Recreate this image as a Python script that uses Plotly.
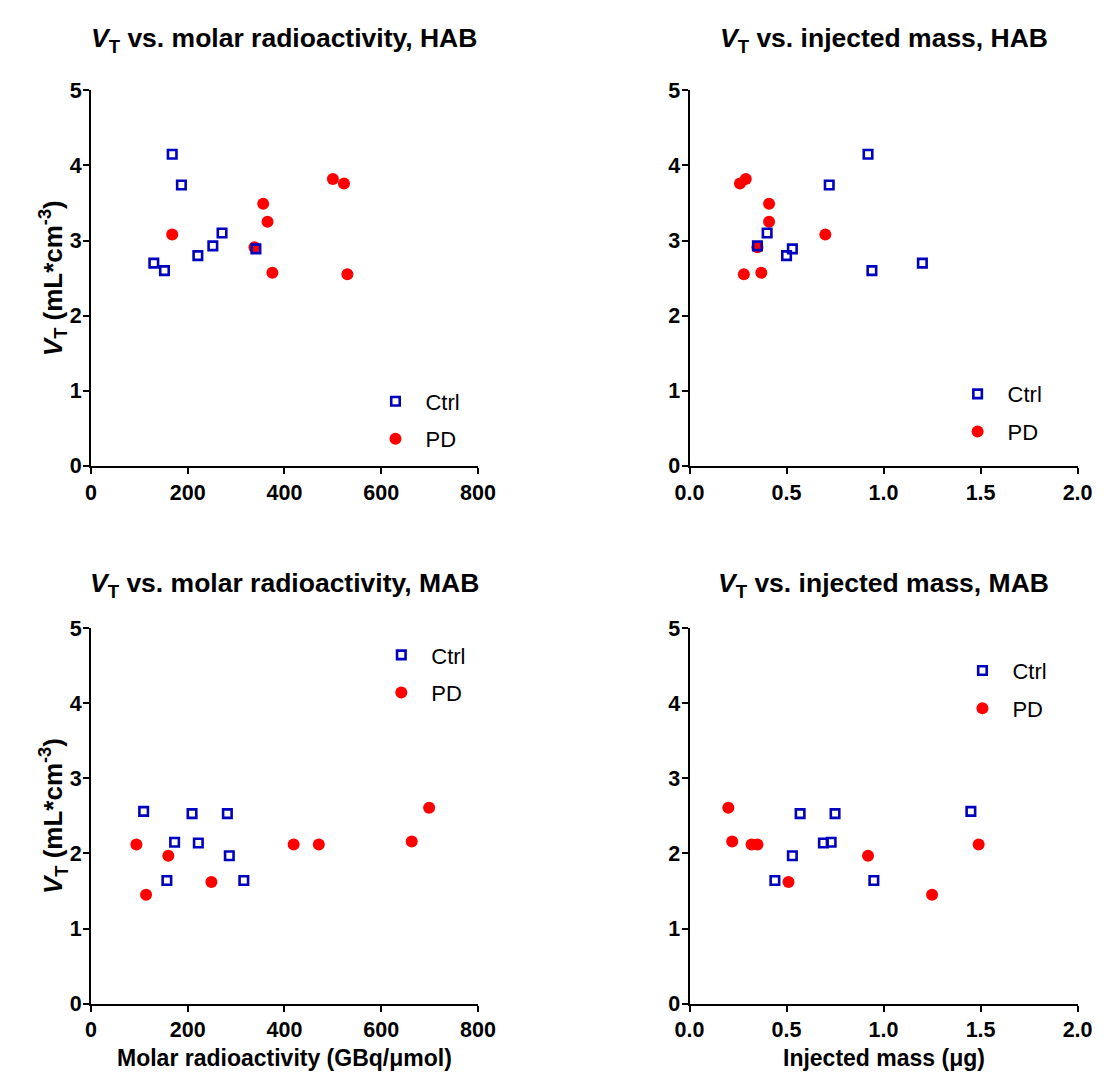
import plotly.graph_objects as go

# ---------------- data ----------------
hab_ctrl_vt = [4.15, 3.74, 3.10, 2.93, 2.80, 2.70, 2.60, 2.89]
hab_ctrl_molar = [168, 187, 271, 252, 221, 130, 152, 341]
hab_ctrl_mass = [0.92, 0.72, 0.40, 0.35, 0.50, 1.20, 0.94, 0.53]

hab_pd_vt = [3.08, 3.49, 3.25, 2.91, 2.57, 3.82, 3.76, 2.55]
hab_pd_molar = [168, 356, 365, 338, 375, 500, 523, 530]
hab_pd_mass = [0.70, 0.41, 0.41, 0.35, 0.37, 0.29, 0.26, 0.28]

mab_ctrl_vt = [2.56, 2.53, 2.53, 2.15, 2.14, 1.97, 1.64, 1.64]
mab_ctrl_molar = [109, 209, 282, 173, 222, 286, 157, 316]
mab_ctrl_mass = [1.45, 0.57, 0.75, 0.73, 0.69, 0.53, 0.44, 0.95]

mab_pd_vt = [2.12, 1.97, 1.45, 1.62, 2.12, 2.12, 2.16, 2.61]
mab_pd_molar = [94, 160, 114, 249, 419, 471, 663, 699]
mab_pd_mass = [0.32, 0.92, 1.25, 0.51, 0.35, 1.49, 0.22, 0.20]

titles = [
    "<b><i>V</i><sub>T</sub> vs. molar radioactivity, HAB</b>",
    "<b><i>V</i><sub>T</sub> vs. injected mass, HAB</b>",
    "<b><i>V</i><sub>T</sub> vs. molar radioactivity, MAB</b>",
    "<b><i>V</i><sub>T</sub> vs. injected mass, MAB</b>",
]
ytitle = "<b><i>V</i><sub>T</sub> (mL*cm<sup>-3</sup>)</b>"
xtitle_molar = "<b>Molar radioactivity (GBq/μmol)</b>"
xtitle_mass = "<b>Injected mass (μg)</b>"
molar_ticks = [0, 200, 400, 600, 800]
mass_ticks = [0.0, 0.5, 1.0, 1.5, 2.0]
vt_ticks = [0, 1, 2, 3, 4, 5]

# ---------------- figure ----------------
W, H = 1107, 1081
FONT = "Liberation Sans, Arial, Helvetica, sans-serif"
CTRL_COLOR = "#0000BF"
PD_COLOR = "#FF0000"

def px_x(p):
    return p / W

def px_y(p):
    return 1 - p / H

fig = go.Figure()

panels = [
    ("", hab_ctrl_molar, hab_ctrl_vt, hab_pd_molar, hab_pd_vt, "legend"),
    ("2", hab_ctrl_mass, hab_ctrl_vt, hab_pd_mass, hab_pd_vt, "legend2"),
    ("3", mab_ctrl_molar, mab_ctrl_vt, mab_pd_molar, mab_pd_vt, "legend3"),
    ("4", mab_ctrl_mass, mab_ctrl_vt, mab_pd_mass, mab_pd_vt, "legend4"),
]

for i, (ax, xc, yc, xp, yp, lg) in enumerate(panels):
    fig.add_trace(go.Scatter(
        x=xp, y=yp, mode="markers", name="PD",
        xaxis="x" + ax, yaxis="y" + ax, legend=lg, legendrank=2,
        legendgroup=f"pd{i}",
        marker=dict(symbol="circle", size=12, color=PD_COLOR, line=dict(width=0)),
        hoverinfo="x+y",
    ))
    fig.add_trace(go.Scatter(
        x=xc, y=yc, mode="markers", name="Ctrl",
        xaxis="x" + ax, yaxis="y" + ax, legend=lg, legendrank=1,
        legendgroup=f"ctrl{i}",
        marker=dict(symbol="square-open", size=8.5, color=CTRL_COLOR,
                    line=dict(width=2.6, color=CTRL_COLOR)),
        hoverinfo="x+y",
    ))

xl = [px_x(70), px_x(469)]
xr = [px_x(687), px_x(1087)]
yt = [px_y(457), px_y(73)]
yb = [px_y(1007), px_y(623)]

axis_common = dict(
    showline=True, linewidth=2, linecolor="black", showgrid=False, zeroline=False,
    ticks="outside", ticklen=6, tickwidth=2, tickcolor="black",
    tickfont=dict(family=FONT, size=21.5, color="black", weight="bold"),
    fixedrange=True,
)

def xaxis(domain, anchor, ticks, is_mass):
    d = dict(axis_common)
    d.update(domain=domain, anchor=anchor, tickmode="array", tickvals=ticks,
             range=[0, ticks[-1]])
    if is_mass:
        d.update(ticktext=[f"{t:.1f}" for t in ticks])
    else:
        d.update(ticktext=[str(t) for t in ticks])
    return d

def yaxis(domain, anchor):
    d = dict(axis_common)
    d.update(domain=domain, anchor=anchor, tickmode="array", tickvals=vt_ticks,
             range=[0, 5], ticklabelstandoff=-3)
    return d

legend_common = dict(
    bgcolor="rgba(0,0,0,0)", borderwidth=0,
    font=dict(family=FONT, size=22, color="black"),
    itemwidth=50, tracegroupgap=6, xanchor="left", yanchor="middle",
    itemclick=False, itemdoubleclick=False,
)

def legend_at(mx, my):
    d = dict(legend_common)
    d.update(x=px_x(mx - 30), y=px_y(my))
    return d

fig.update_layout(
    width=W, height=H,
    margin=dict(l=0, r=0, t=0, b=0),
    paper_bgcolor="white", plot_bgcolor="white",
    font=dict(family=FONT, color="black"),
    xaxis=xaxis(xl, "y", molar_ticks, False),
    yaxis=yaxis(yt, "x"),
    xaxis2=xaxis(xr, "y2", mass_ticks, True),
    yaxis2=yaxis(yt, "x2"),
    xaxis3=xaxis(xl, "y3", molar_ticks, False),
    yaxis3=yaxis(yb, "x3"),
    xaxis4=xaxis(xr, "y4", mass_ticks, True),
    yaxis4=yaxis(yb, "x4"),
    legend=legend_at(383, 410.5),
    legend2=legend_at(983, 403),
    legend3=legend_at(389, 670),
    legend4=legend_at(988, 686),
    showlegend=True,
)

annotations = []
title_pos = [((70 + 469) / 2, 21), ((687 + 1087) / 2, 21),
             ((70 + 469) / 2, 579), ((687 + 1087) / 2, 579)]
for t, (cx, cy) in zip(titles, title_pos):
    annotations.append(dict(
        text=t, x=px_x(cx), y=px_y(cy), xref="paper", yref="paper",
        xanchor="center", yanchor="middle", showarrow=False,
        font=dict(family=FONT, size=26.5, color="black"),
    ))
for cy in [(457 + 73) / 2, (1007 + 623) / 2]:
    annotations.append(dict(
        text=ytitle, x=px_x(31), y=px_y(cy), xref="paper", yref="paper",
        xanchor="center", yanchor="middle", showarrow=False, textangle=-90,
        font=dict(family=FONT, size=26, color="black"),
    ))
annotations.append(dict(
    text=xtitle_molar, x=px_x((70 + 469) / 2), y=px_y(1063), xref="paper", yref="paper",
    xanchor="center", yanchor="middle", showarrow=False,
    font=dict(family=FONT, size=23, color="black"),
))
annotations.append(dict(
    text=xtitle_mass, x=px_x((687 + 1087) / 2), y=px_y(1063), xref="paper", yref="paper",
    xanchor="center", yanchor="middle", showarrow=False,
    font=dict(family=FONT, size=23, color="black"),
))
fig.update_layout(annotations=annotations)

fig.write_html("out.html")
